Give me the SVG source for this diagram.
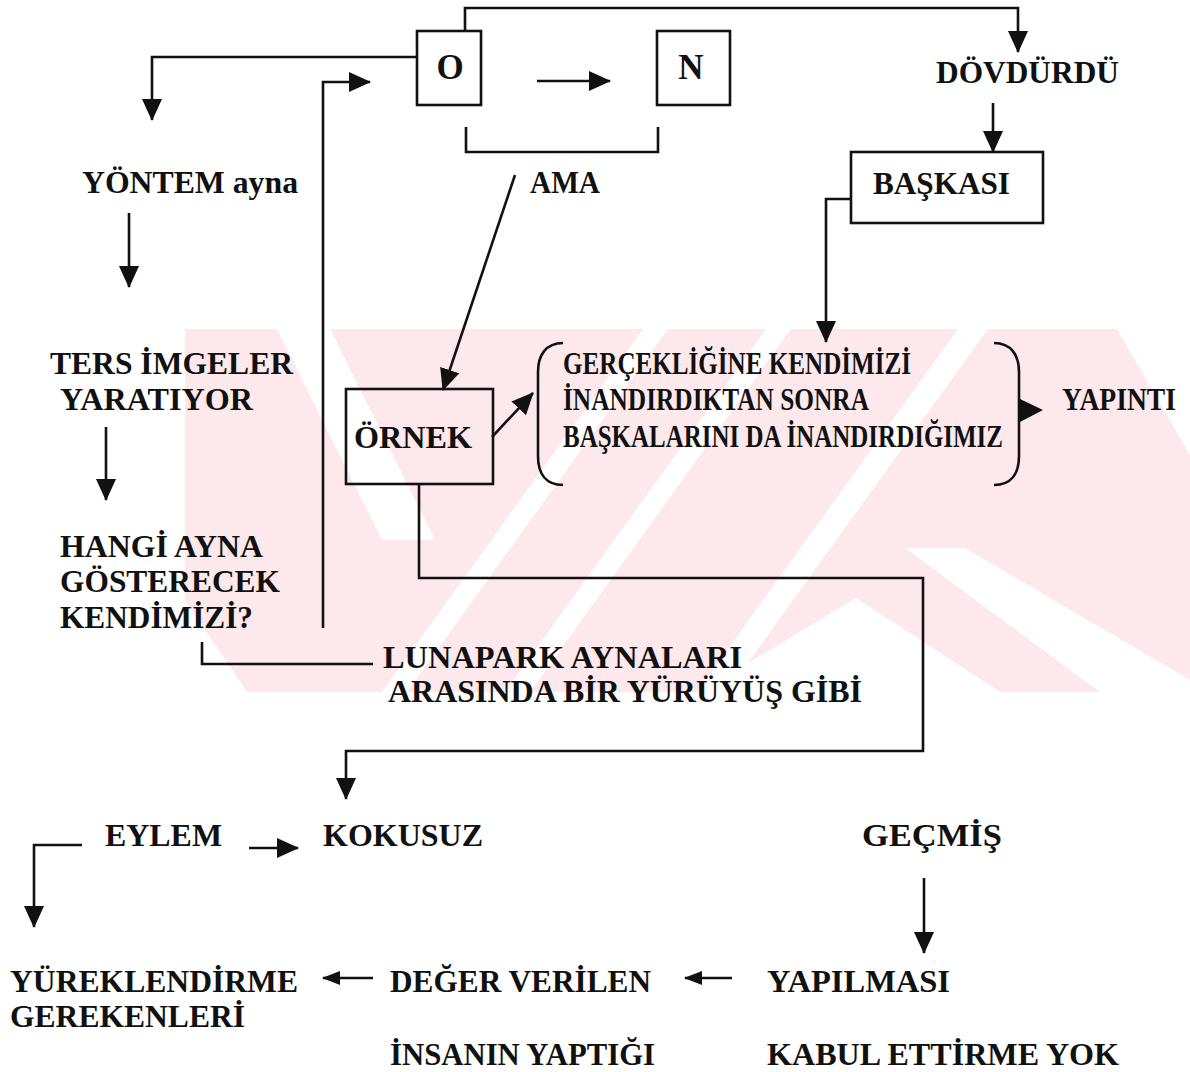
<svg xmlns="http://www.w3.org/2000/svg" width="1190" height="1072" viewBox="0 0 1190 1072">
  <style>
    .t { font-family: "Liberation Serif", "Times New Roman", serif; font-weight: bold; font-size: 32px; fill: #111; }
    .big { font-size: 35px; }
    .ln { fill: none; stroke: #111; stroke-width: 2.6; stroke-linejoin: miter; stroke-linecap: butt; }
    .box { fill: none; stroke: #111; stroke-width: 2.6; }
    .wm { fill: #fde8ec; }
    .wmw { fill: #ffffff; }
  </style>
  <defs>
    <marker id="ah" viewBox="0 0 22 20" refX="21" refY="10" markerWidth="22" markerHeight="20" orient="auto" markerUnits="userSpaceOnUse">
      <path d="M0,0 L22,10 L0,20 Z" fill="#111"/>
    </marker>
    <marker id="ahs" viewBox="0 0 18 14" refX="17" refY="7" markerWidth="18" markerHeight="14" orient="auto" markerUnits="userSpaceOnUse">
      <path d="M0,0 L18,7 L0,14 Z" fill="#111"/>
    </marker>
    <clipPath id="band">
      <rect x="185" y="329" width="1005" height="363"/>
    </clipPath>
  </defs>

  <rect width="1190" height="1072" fill="#ffffff"/>

  <!-- faint striped mark behind the middle rows -->
  <g id="backdrop" clip-path="url(#band)">
    <polygon class="wm" points="185,329 1117,329 1190,455 1190,692 247,692 185,600"/>
    <polygon class="wmw" points="277,329 330,329 435,540 382,540"/>
    <polygon class="wmw" points="643,329 668,329 407,692 382,692"/>
    <polygon class="wmw" points="766,329 791,329 530,692 505,692"/>
    <polygon class="wmw" points="958,329 988,329 727,692 697,692"/>
    <polygon class="wmw" points="856,598 1000,692 700,692"/>
    <polygon class="wmw" points="905,548 965,548 1190,680 1190,692 1100,692"/>
  </g>

  <!-- connectors -->
  <g id="connectors">
    <path class="ln" d="M465,30 V8 H1018 V52" marker-end="url(#ah)"/>
    <path class="ln" d="M417,57 H152 V120" marker-end="url(#ah)"/>
    <path class="ln" d="M323,628 V82 H370" marker-end="url(#ah)"/>
    <path class="ln" d="M537,81 H610" marker-end="url(#ah)"/>
    <path class="ln" d="M466,127 V152 H658 V127"/>
    <path class="ln" d="M515,175 L443,390" marker-end="url(#ah)"/>
    <path class="ln" d="M993,103 V152" marker-end="url(#ah)"/>
    <path class="ln" d="M850,199 H826 V342" marker-end="url(#ah)"/>
    <path class="ln" d="M129,213 V287" marker-end="url(#ah)"/>
    <path class="ln" d="M106,427 V500" marker-end="url(#ah)"/>
    <path class="ln" d="M202,642 V664 H373"/>
    <path class="ln" d="M492,437 L533,393" marker-end="url(#ah)"/>
    <polygon points="1020,399 1043,410 1020,422" fill="#111"/>
    <path class="ln" d="M419,484 V578 H923 V751 H346 V799" marker-end="url(#ah)"/>
    <path class="ln" d="M82,845 H34 V927" marker-end="url(#ah)"/>
    <path class="ln" d="M249,848 H298" marker-end="url(#ah)"/>
    <path class="ln" d="M924,878 V953" marker-end="url(#ah)"/>
    <path class="ln" d="M373,978 H323" marker-end="url(#ahs)"/>
    <path class="ln" d="M732,978 H685" marker-end="url(#ahs)"/>
  </g>

  <!-- nodes -->
  <g id="node-o">
    <rect class="box" x="417" y="31" width="64" height="74"/>
    <text class="t big" x="450" y="79" text-anchor="middle">O</text>
  </g>
  <g id="node-n">
    <rect class="box" x="657" y="31" width="73" height="74"/>
    <text class="t big" x="691" y="79" text-anchor="middle">N</text>
  </g>
  <g id="node-dovdurdu">
    <text class="t" x="936" y="83" textLength="183" lengthAdjust="spacingAndGlyphs">DÖVDÜRDÜ</text>
  </g>
  <g id="node-baskasi">
    <rect class="box" x="851" y="152" width="192" height="71"/>
    <text class="t" x="873" y="194" textLength="137" lengthAdjust="spacingAndGlyphs">BAŞKASI</text>
  </g>
  <g id="node-ama">
    <text class="t" x="530" y="193" textLength="70" lengthAdjust="spacingAndGlyphs" font-size="29">AMA</text>
  </g>
  <g id="node-yontem">
    <text class="t" x="82" y="193" textLength="216" lengthAdjust="spacingAndGlyphs">YÖNTEM ayna</text>
  </g>
  <g id="node-ters">
    <text class="t" x="50" y="374" textLength="243" lengthAdjust="spacingAndGlyphs">TERS İMGELER</text>
    <text class="t" x="60" y="410" textLength="193" lengthAdjust="spacingAndGlyphs">YARATIYOR</text>
  </g>
  <g id="node-hangi">
    <text class="t" x="60" y="557" textLength="203" lengthAdjust="spacingAndGlyphs">HANGİ AYNA</text>
    <text class="t" x="60" y="592" textLength="220" lengthAdjust="spacingAndGlyphs">GÖSTERECEK</text>
    <text class="t" x="60" y="628" textLength="193" lengthAdjust="spacingAndGlyphs">KENDİMİZİ?</text>
  </g>
  <g id="node-ornek">
    <rect class="box" x="346" y="389" width="147" height="95"/>
    <text class="t" x="354" y="448" textLength="118" lengthAdjust="spacingAndGlyphs">ÖRNEK</text>
  </g>
  <g id="node-gerceklik">
    <path class="ln" d="M563,343 C546,343 538,355 538,372 L538,456 C538,474 546,485 563,485"/>
    <path class="ln" d="M994,343 C1011,343 1019,355 1019,372 L1019,456 C1019,474 1011,485 994,485"/>
    <text class="t" x="563" y="374" textLength="348" lengthAdjust="spacingAndGlyphs">GERÇEKLİĞİNE KENDİMİZİ</text>
    <text class="t" x="563" y="410" textLength="306" lengthAdjust="spacingAndGlyphs">İNANDIRDIKTAN SONRA</text>
    <text class="t" x="563" y="447" textLength="440" lengthAdjust="spacingAndGlyphs">BAŞKALARINI DA İNANDIRDIĞIMIZ</text>
  </g>
  <g id="node-yapinti">
    <text class="t" x="1062" y="410" textLength="114" lengthAdjust="spacingAndGlyphs" font-size="28">YAPINTI</text>
  </g>
  <g id="node-lunapark">
    <text class="t" x="383" y="668" textLength="359" lengthAdjust="spacingAndGlyphs">LUNAPARK AYNALARI</text>
    <text class="t" x="388" y="702" textLength="474" lengthAdjust="spacingAndGlyphs">ARASINDA BİR YÜRÜYÜŞ GİBİ</text>
  </g>
  <g id="node-eylem">
    <text class="t" x="105" y="846" textLength="117" lengthAdjust="spacingAndGlyphs">EYLEM</text>
  </g>
  <g id="node-kokusuz">
    <text class="t" x="323" y="846" textLength="160" lengthAdjust="spacingAndGlyphs">KOKUSUZ</text>
  </g>
  <g id="node-gecmis">
    <text class="t" x="862" y="846" textLength="140" lengthAdjust="spacingAndGlyphs">GEÇMİŞ</text>
  </g>
  <g id="node-yureklendirme">
    <text class="t" x="10" y="992" textLength="288" lengthAdjust="spacingAndGlyphs">YÜREKLENDİRME</text>
    <text class="t" x="10" y="1027" textLength="235" lengthAdjust="spacingAndGlyphs">GEREKENLERİ</text>
  </g>
  <g id="node-deger">
    <text class="t" x="390" y="992" textLength="261" lengthAdjust="spacingAndGlyphs">DEĞER VERİLEN</text>
    <text class="t" x="390" y="1065" textLength="265" lengthAdjust="spacingAndGlyphs">İNSANIN YAPTIĞI</text>
  </g>
  <g id="node-yapilmasi">
    <text class="t" x="767" y="992" textLength="183" lengthAdjust="spacingAndGlyphs">YAPILMASI</text>
    <text class="t" x="767" y="1065" textLength="352" lengthAdjust="spacingAndGlyphs">KABUL ETTİRME YOK</text>
  </g>
</svg>
